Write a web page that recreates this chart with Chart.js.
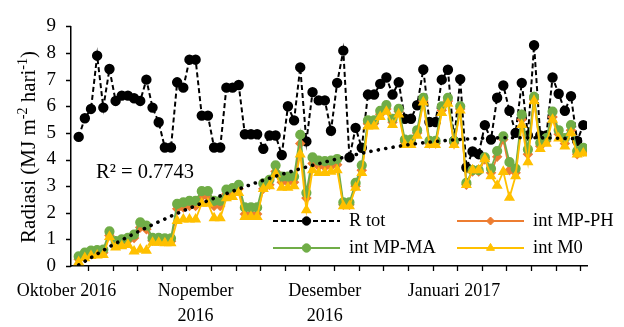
<!DOCTYPE html>
<html>
<head>
<meta charset="utf-8">
<script src="https://cdn.jsdelivr.net/npm/chart.js@4"></script>
<style>
  body { margin: 0; background: #fff; }
  #wrap { width: 624px; height: 327px; }
</style>
</head>
<body>
<div id="wrap"><canvas id="grafik" width="624" height="327"></canvas></div>
<script>
// data harian (indeks pengamatan 0..82)
const rTot = [4.85, 5.55, 5.9, 7.9, 5.95, 7.4, 6.2, 6.4, 6.4, 6.3, 6.2, 7.0, 5.95, 5.4, 4.45, 4.45,
  6.9, 6.7, 7.75, 7.75, 5.65, 5.65, 4.45, 4.45, 6.7, 6.7, 6.8, 4.95, 4.95, 4.95, 4.4, 4.9,
  4.9, 4.17, 6.0, 5.47, 7.46, 4.68, 6.53, 6.22, 6.22, 5.08, 6.88, 8.09, 4.08, 5.19, 4.44, 6.44,
  6.44, 6.84, 7.08, 6.44, 6.9, 5.53, 5.53, 6.04, 7.38, 5.41, 5.41, 7.0, 7.37, 4.7, 7.02, 3.7,
  4.3, 4.2, 5.29, 4.75, 6.32, 6.78, 5.83, 5.0, 6.88, 4.9, 8.29, 4.9, 4.9, 7.08, 6.47, 5.83,
  6.38, 4.7, 5.29];
const intMpPh = [0.25, 0.4, 0.48, 0.5, 0.5, 1.15, 0.85, 0.9, 0.95, 1.05, 1.45, 1.38, 0.95, 0.95, 0.93, 0.93,
  2.15, 2.2, 2.25, 2.25, 2.6, 2.6, 2.25, 2.25, 2.7, 2.75, 2.9, 1.95, 1.95, 1.95, 2.9, 3.05,
  3.55, 3.15, 3.15, 3.15, 4.6, 2.55, 3.85, 3.75, 3.72, 3.75, 3.8, 2.3, 2.3, 3.0, 3.6, 5.35,
  5.35, 5.7, 5.9, 5.4, 5.8, 4.65, 4.65, 5.0, 6.2, 4.6, 4.6, 5.85, 6.2, 4.6, 5.9, 3.05,
  3.55, 3.55, 4.0, 3.5, 4.1, 4.75, 3.6, 3.5, 5.5, 4.2, 6.25, 4.5, 4.7, 5.6, 4.95, 4.6,
  5.1, 4.2, 4.3];
const intMpMa = [0.36, 0.5, 0.58, 0.6, 0.62, 1.3, 0.94, 1.0, 1.06, 1.18, 1.64, 1.52, 1.06, 1.06, 1.04, 1.04,
  2.33, 2.39, 2.45, 2.45, 2.81, 2.81, 2.45, 2.45, 2.87, 2.93, 3.05, 2.2, 2.2, 2.2, 3.1, 3.24,
  3.78, 3.36, 3.36, 3.36, 4.93, 2.75, 4.08, 3.96, 3.94, 3.96, 4.02, 2.39, 2.39, 3.12, 3.78, 5.47,
  5.47, 5.83, 6.04, 5.53, 5.9, 4.75, 4.75, 5.1, 6.32, 4.7, 4.7, 6.0, 6.32, 4.7, 6.0, 3.12,
  3.6, 3.6, 4.08, 3.66, 4.32, 4.87, 3.9, 3.66, 5.69, 4.38, 6.35, 4.63, 4.8, 5.8, 5.1, 4.8,
  5.29, 4.32, 4.44];
const intM0 = [0.15, 0.3, 0.38, 0.4, 0.42, 1.1, 0.7, 0.75, 0.8, 0.55, 0.62, 0.58, 0.88, 0.88, 0.86, 0.86,
  1.7, 1.75, 1.75, 1.75, 2.35, 2.35, 1.8, 1.8, 2.55, 2.6, 2.75, 1.85, 1.85, 1.85, 2.9, 3.0,
  3.45, 2.95, 2.95, 3.0, 4.2, 2.1, 3.6, 3.5, 3.5, 3.55, 3.6, 2.25, 2.25, 2.95, 3.5, 5.25,
  5.25, 5.6, 5.8, 5.3, 5.7, 4.55, 4.55, 4.9, 6.15, 4.55, 4.55, 5.75, 6.1, 4.55, 5.85, 3.05,
  3.6, 3.6, 4.02, 3.38, 3.02, 3.54, 2.57, 3.38, 5.3, 3.9, 6.2, 4.4, 4.6, 5.5, 4.8, 4.5,
  5.0, 4.2, 4.23];
// garis tren R tot
const trendIdx = [0, 6, 12, 18, 24, 30, 36, 42, 48, 54, 60, 66, 72, 78, 82];
const trendVal = [0.04, 0.85, 1.55, 2.17, 2.72, 3.22, 3.65, 4.02, 4.33, 4.57, 4.72, 4.8, 4.82, 4.8, 4.77];

const yTicks = [0, 1, 2, 3, 4, 5, 6, 7, 8, 9];
const xTickPos = [1.5, 5.5, 9.5, 13.5, 17.5, 21.5, 25.5, 29.5, 33.5, 37.5, 41.5, 45.5, 49.5, 53.5,
  57.5, 61.5, 65.5, 69.5, 73.5, 77.5, 81.5];
const bulanPos = [-2, 19, 40, 61];
const bulanLabel = [['Oktober 2016'], ['Nopember', '2016'], ['Desember', '2016'], ['Januari 2017']];
const r2Text = 'R\u00B2 = 0.7743';

const SERIF = '"Liberation Serif", "Times New Roman", serif';
const toXY = arr => arr.map((v, i) => ({ x: i, y: v }));

const seri = [
  { label: 'R tot', data: toXY(rTot), borderColor: '#000', backgroundColor: '#000',
    borderWidth: 2, borderDash: [5, 3], pointStyle: 'circle', pointRadius: 4.2, order: 3 },
  { label: 'int MP-PH', data: toXY(intMpPh), borderColor: '#ED7D31', backgroundColor: '#ED7D31',
    borderWidth: 1.8, pointStyle: 'rectRot', pointRadius: 4, order: 2 },
  { label: 'int MP-MA', data: toXY(intMpMa), borderColor: '#70AD47', backgroundColor: '#70AD47',
    borderWidth: 1.8, pointStyle: 'circle', pointRadius: 4.2, order: 1 },
  { label: 'int M0', data: toXY(intM0), borderColor: '#FFC000', backgroundColor: '#FFC000',
    borderWidth: 1.8, pointStyle: 'triangle', pointRadius: 4.6, order: 0 },
];

const tren = {
  label: 'tren', data: trendIdx.map((x, i) => ({ x: x, y: trendVal[i] })),
  borderColor: '#000', borderWidth: 3.6, borderDash: [0.1, 7.4], borderCapStyle: 'round',
  pointRadius: 0, cubicInterpolationMode: 'monotone', order: -1
};

// legenda dua kolom di dalam area plot
const posLegenda = [
  { seri: 0, x: 273, y: 221 }, { seri: 1, x: 457, y: 221 },
  { seri: 2, x: 273, y: 248 }, { seri: 3, x: 457, y: 248 }
];

const teksTambahan = {
  id: 'teksTambahan',
  afterDraw(chart) {
    const ctx = chart.ctx;
    const xs = chart.scales.x, ys = chart.scales.y;
    ctx.save();

    // tanda tick sumbu
    ctx.strokeStyle = '#000';
    ctx.lineWidth = 1.3;
    ctx.beginPath();
    for (const v of yTicks) {
      const y = Math.round(ys.getPixelForValue(v)) + 0.5;
      ctx.moveTo(xs.left - 5, y); ctx.lineTo(xs.left, y);
    }
    for (const v of xTickPos) {
      const x = Math.round(xs.getPixelForValue(v)) + 0.5;
      ctx.moveTo(x, ys.bottom); ctx.lineTo(x, ys.bottom + 5);
    }
    ctx.stroke();

    // R²
    ctx.fillStyle = '#000';
    ctx.font = '20.5px ' + SERIF;
    ctx.textBaseline = 'alphabetic';
    ctx.textAlign = 'left';
    ctx.fillText(r2Text, 96, 178);

    // legenda
    for (const p of posLegenda) {
      const ds = seri[p.seri];
      ctx.strokeStyle = ds.borderColor;
      ctx.fillStyle = ds.backgroundColor;
      ctx.lineWidth = ds.borderWidth;
      ctx.setLineDash(ds.borderDash || []);
      ctx.beginPath();
      ctx.moveTo(p.x, p.y);
      ctx.lineTo(p.x + 67, p.y);
      ctx.stroke();
      ctx.setLineDash([]);
      ctx.lineWidth = 1;
      Chart.helpers.drawPoint(ctx, { pointStyle: ds.pointStyle, radius: ds.pointRadius, rotation: 0, borderWidth: 1 }, p.x + 33.5, p.y);
      ctx.fillStyle = '#000';
      ctx.font = '18.5px ' + SERIF;
      ctx.textBaseline = 'middle';
      ctx.fillText(ds.label, p.x + 76, p.y);
    }

    // judul sumbu Y dengan pangkat
    ctx.translate(29, 147);
    ctx.rotate(-Math.PI / 2);
    const bagian = [['Radiasi (MJ m', 0], ['-2', 1], [' hari', 0], ['-1', 1], [')', 0]];
    const besar = '21px ' + SERIF, kecil = '14px ' + SERIF;
    let total = 0;
    for (const [t, s] of bagian) { ctx.font = s ? kecil : besar; total += ctx.measureText(t).width; }
    let x = -total / 2;
    ctx.textBaseline = 'middle';
    for (const [t, s] of bagian) {
      ctx.font = s ? kecil : besar;
      ctx.fillText(t, x, s ? -6 : 0);
      x += ctx.measureText(t).width;
    }
    ctx.restore();
  }
};

new Chart(document.getElementById('grafik'), {
  type: 'line',
  data: { datasets: [...seri, tren] },
  options: {
    responsive: false,
    animation: false,
    devicePixelRatio: 1,
    layout: { padding: { left: 0, right: 37, top: 18, bottom: 0 } },
    elements: { line: { tension: 0, fill: false }, point: { borderWidth: 1 } },
    plugins: { legend: { display: false }, tooltip: { enabled: false } },
    scales: {
      x: {
        type: 'linear', min: -1.25, max: 82.6,
        afterBuildTicks: (scale) => { scale.ticks = bulanPos.map(v => ({ value: v })); },
        afterFit: (scale) => { scale.height = 61; },
        ticks: {
          autoSkip: false, maxRotation: 0, color: '#000', padding: 13,
          font: { family: SERIF, size: 18, lineHeight: 1.38 },
          callback: (v) => { const k = bulanPos.indexOf(v); return k >= 0 ? bulanLabel[k] : ''; }
        },
        grid: { display: false, drawTicks: false },
        border: { display: true, color: '#000', width: 1.5 }
      },
      y: {
        min: 0, max: 9,
        afterFit: (scale) => { scale.width = 71; },
        ticks: { stepSize: 1, color: '#000', padding: 15, font: { family: SERIF, size: 19 } },
        grid: { display: false, drawTicks: false },
        border: { display: true, color: '#000', width: 1.5 }
      }
    }
  },
  plugins: [teksTambahan]
});
</script>
</body>
</html>
